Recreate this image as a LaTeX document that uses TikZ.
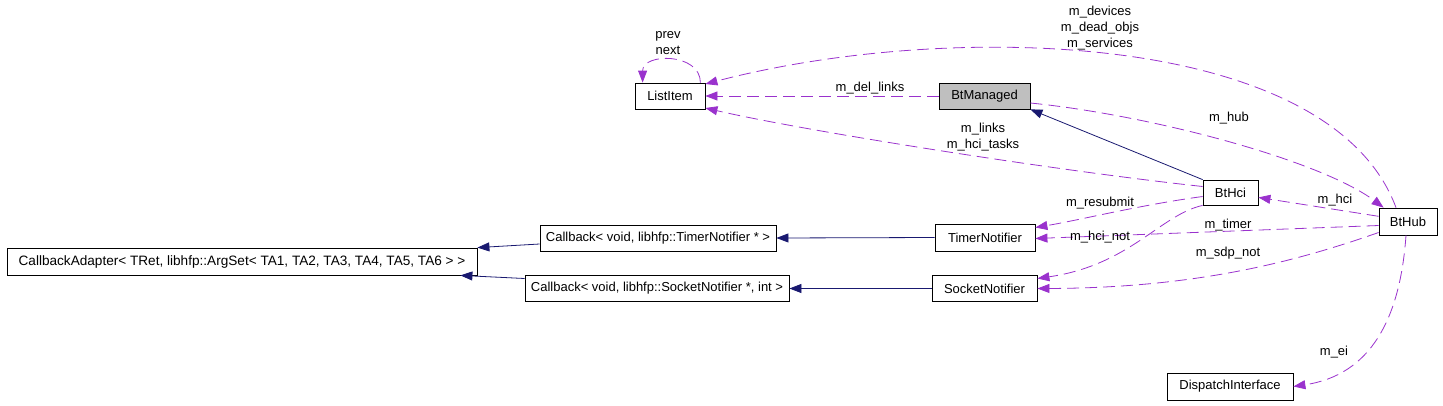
\documentclass[tikz,border=0pt]{standalone}
\usepackage{fontspec}
\setmainfont{Liberation Sans}
\usetikzlibrary{arrows.meta}
\definecolor{usecol}{HTML}{9A32CD}
\definecolor{isacol}{HTML}{191970}
\definecolor{curfill}{HTML}{BFBFBF}
\tikzset{
  cls/.style={rectangle,draw=black,fill=white,line width=0.8pt,inner sep=0pt,
    minimum height=26pt,font=\fontsize{13}{16}\selectfont},
  curcls/.style={cls,fill=curfill},
  lbl/.style={inner sep=0pt,align=center,font=\fontsize{13}{16}\selectfont},
  use/.style={-{Triangle[length=12pt,width=9pt]},draw=usecol,line width=0.8pt,
    dash pattern=on 12pt off 6pt},
  isa/.style={-{Triangle[length=12pt,width=9pt]},draw=isacol,line width=0.8pt},
}

\begin{document}
\begin{tikzpicture}[x=1pt,y=-1pt]
  \useasboundingbox (0,0) rectangle (1443,405);
  % classes
  \node[cls,minimum width=70pt] (listitem) at (670,96) {ListItem};
  \node[curcls,minimum width=91pt] (btmanaged) at (984.5,96) {BtManaged};
  \node[cls,minimum width=55pt,minimum height=25pt] (bthci) at (1230.5,192.5) {BtHci};
  \node[cls,minimum width=58pt,minimum height=27pt] (bthub) at (1408,221.5) {BtHub};
  \node[cls,minimum width=100pt,minimum height=27pt] (timernot) at (985,237.5) {TimerNotifier};
  \node[cls,minimum width=105pt] (socketnot) at (984.5,288.5) {SocketNotifier};
  \node[cls,minimum width=236pt] (cbtimer) at (658,238) {Callback< void, libhfp::TimerNotifier * >};
  \node[cls,minimum width=264pt] (cbsocket) at (657,288.5) {Callback< void, libhfp::SocketNotifier *, int >};
  \node[cls,minimum width=470pt,minimum height=27pt,font=\fontsize{13.6}{16}\selectfont] (cbadapter) at (242,261.5)
    {CallbackAdapter< TRet, libhfp::ArgSet< TA1, TA2, TA3, TA4, TA5, TA6 > >};
  \node[cls,minimum width=126pt,minimum height=27pt] (dispif) at (1230,386.5) {DispatchInterface};

  % inheritance
  \draw[isa] (bthci.north west) -- (btmanaged.south east);
  \draw[isa] (timernot.west) -- (cbtimer.east);
  \draw[isa] (socketnot.west) -- (cbsocket.east);
  \draw[isa] ([yshift=-6pt]cbtimer.west) -- (cbadapter.north east);
  \draw[isa] ([yshift=10pt]cbsocket.west) -- ([xshift=-17pt]cbadapter.south east);

  % usage
  \draw[use] ([xshift=-5pt]listitem.north east) .. controls +(0,-30) and +(0,-30) .. ([xshift=8pt]listitem.north west);
  \draw[use] ([xshift=-12pt]bthub.north) .. controls (1330,30) and (950,20) .. ([yshift=12pt]listitem.east);
  \draw[use] (btmanaged) -- (listitem);
  \draw[use] ([yshift=6pt]bthci.west) .. controls (1050,170) and (800,130) .. ([yshift=-12pt]listitem.east);
  \draw[use] ([yshift=-7pt]btmanaged.east) .. controls (1150,115) and (1320,160) .. ([xshift=5pt]bthub.north west);
  \draw[use] (bthub.170) -- (bthci.-10);
  \draw[use] ([yshift=-4pt]bthci.west) .. controls (1140,205) and (1080,220) .. ([yshift=10pt]timernot.east);
  \draw[use] ([yshift=-4pt]bthub.west) -- ([yshift=-1pt]timernot.east);
  \draw[use] (bthci.south west) .. controls (1160,215) and (1130,265) .. ([yshift=10pt]socketnot.east);
  \draw[use] ([yshift=-11pt]bthub.west) .. controls (1300,260) and (1200,288) .. (socketnot.east);
  \draw[use] ([xshift=-2pt]bthub.south) .. controls (1400,320) and (1370,375) .. (dispif.east);

  % labels
  \node[lbl] (lprev) at (668,43) {prev\\next};
  \node[lbl] (ldevices) at (1100,28.5) {m\_devices\\m\_dead\_objs\\m\_services};
  \node[lbl] (ldellinks) at (870,88) {m\_del\_links};
  \node[lbl] (llinks) at (983,137) {m\_links\\m\_hci\_tasks};
  \node[lbl] (lhub) at (1229,118) {m\_hub};
  \node[lbl] (lhci) at (1335,200) {m\_hci};
  \node[lbl] (lresubmit) at (1100,203) {m\_resubmit};
  \node[lbl] (ltimer) at (1228,225) {m\_timer};
  \node[lbl] (lhcinot) at (1100,237) {m\_hci\_not};
  \node[lbl] (lsdpnot) at (1228,253) {m\_sdp\_not};
  \node[lbl] (lei) at (1334,352) {m\_ei};
\end{tikzpicture}
\end{document}
